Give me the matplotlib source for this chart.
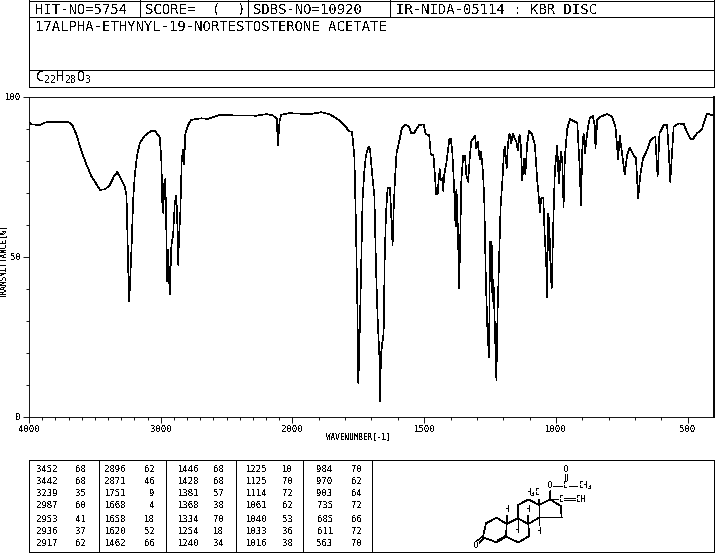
import numpy as np
import matplotlib
matplotlib.use("Agg")
import matplotlib.pyplot as plt

# ============================================================
# 1. Data
# ============================================================

WAVENUMBER = [
    3992, 3980, 3916, 3879, 3815, 3702, 3669, 3639, 3601, 3563, 3525, 3492,
    3462, 3424, 3386, 3356, 3331, 3310, 3273, 3260, 3252, 3245, 3239, 3220,
    3210, 3197, 3179, 3159, 3121, 3071, 3045, 3007, 2995, 2987, 2980, 2975,
    2965, 2957, 2950, 2944, 2932, 2919, 2906, 2894, 2884, 2876, 2868, 2861,
    2851, 2841, 2831, 2823, 2813, 2793, 2768, 2692, 2641, 2553, 2275, 2199,
    2149, 2119, 2111, 2098, 2086, 2023, 1936, 1891, 1860, 1822, 1797, 1787,
    1774, 1765, 1759, 1753, 1750, 1746, 1740, 1734, 1727, 1721, 1711, 1706,
    1700, 1689, 1683, 1677, 1670, 1668, 1664, 1660, 1654, 1650, 1645, 1639,
    1630, 1626, 1620, 1616, 1611, 1605, 1595, 1585, 1572, 1559, 1549, 1538,
    1519, 1502, 1494, 1481, 1475, 1465, 1458, 1455, 1448, 1446, 1441, 1437,
    1431, 1428, 1424, 1415, 1405, 1399, 1393, 1386, 1383, 1380, 1378, 1375,
    1370, 1368, 1364, 1359, 1352, 1345, 1340, 1333, 1327, 1321, 1307, 1302,
    1297, 1289, 1284, 1277, 1272, 1266, 1260, 1254, 1250, 1244, 1241, 1237,
    1231, 1226, 1222, 1216, 1210, 1203, 1197, 1193, 1187, 1182, 1176, 1170,
    1163, 1157, 1150, 1145, 1138, 1133, 1128, 1121, 1116, 1109, 1102, 1092,
    1080, 1071, 1064, 1061, 1056, 1048, 1042, 1037, 1034, 1029, 1025, 1020,
    1016, 1010, 1004, 995, 989, 981, 976, 971, 966, 957, 947, 919, 910, 905,
    900, 895, 890, 880, 872, 860, 852, 850, 843, 831, 806, 787, 774, 764,
    758, 749, 739, 730, 720, 705, 696, 688, 679, 669, 654, 641, 623, 614,
    607, 591, 578, 572, 566, 553, 534, 515, 503, 490, 481, 465, 446, 427,
    408,
]

TRANSMITTANCE = [
    91.9, 91.3, 91.1, 91.9, 92.1, 92.1, 90.9, 88.0, 82.8, 78.7, 75.0, 72.9,
    70.9, 71.0, 72.4, 75.0, 76.4, 75.0, 71.9, 69.3, 55.8, 43.3, 36.0, 54.7,
    67.2, 75.5, 81.8, 85.4, 87.8, 89.3, 89.3, 87.2, 79.7, 65.1, 63.6, 72.4,
    74.2, 56.8, 42.3, 52.1, 38.3, 53.7, 56.8, 66.2, 69.1, 64.1, 47.5, 56.3,
    64.1, 79.7, 83.3, 78.9, 88.5, 91.1, 92.7, 93.2, 93.0, 94.2, 94.0, 94.5,
    94.1, 93.0, 84.9, 92.2, 94.3, 94.8, 94.5, 95.1, 94.5, 92.6, 90.6, 89.2,
    89.0, 81.2, 59.4, 31.3, 10.5, 22.0, 43.8, 67.7, 77.0, 81.7, 84.3, 83.8,
    78.1, 68.7, 46.9, 31.3, 18.8, 4.8, 19.3, 22.5, 26.1, 49.0, 63.5, 71.3,
    71.6, 64.6, 53.7, 64.6, 73.9, 82.3, 85.9, 90.0, 91.1, 90.8, 88.5, 88.7,
    91.1, 91.3, 88.2, 88.0, 81.9, 81.7, 73.9, 69.5, 69.8, 73.4, 77.3, 73.9,
    74.5, 70.6, 75.5, 79.7, 86.4, 86.9, 82.3, 70.8, 62.5, 59.4, 70.8, 67.7,
    50.5, 40.1, 52.1, 73.9, 81.4, 81.4, 75.5, 73.4, 81.2, 86.2, 87.7, 83.8,
    85.9, 80.4, 82.8, 76.5, 67.7, 42.7, 27.1, 18.6, 54.7, 54.7, 36.0, 42.7,
    26.1, 11.5, 31.3, 49.0, 65.6, 73.9, 83.3, 84.3, 77.6, 85.4, 88.5, 85.4,
    88.5, 86.9, 85.9, 83.1, 88.2, 84.3, 73.9, 80.7, 75.8, 85.4, 89.3, 88.5,
    84.9, 73.9, 67.7, 64.0, 68.2, 68.5, 55.2, 49.0, 37.5, 63.5, 59.9, 44.8,
    40.3, 60.4, 77.0, 84.7, 72.9, 82.8, 80.2, 65.6, 81.2, 90.0, 92.9, 91.8,
    78.1, 66.1, 83.3, 88.5, 82.3, 89.5, 93.2, 93.9, 90.6, 83.8, 92.7, 93.7,
    94.5, 93.7, 90.6, 80.4, 87.7, 82.3, 75.8, 81.7, 84.1, 81.7, 80.7, 68.2,
    76.0, 80.7, 83.3, 86.4, 87.5, 75.0, 88.5, 91.1, 91.1, 83.3, 73.4, 90.6,
    91.6, 91.4, 89.0, 86.9, 86.6, 88.5, 89.7, 94.7, 94.2,
]

X_MAJOR = [4000, 3000, 2000, 1500, 1000, 500]
Y_MAJOR = [0, 50, 100]

PEAK_COLUMNS = [
    [("3452", "68"), ("3442", "68"), ("3239", "35"), ("2987", "60"),
     ("2953", "41"), ("2936", "37"), ("2917", "62")],
    [("2896", "62"), ("2871", "46"), ("1751", "9"), ("1668", "4"),
     ("1658", "18"), ("1620", "52"), ("1462", "66")],
    [("1446", "68"), ("1428", "68"), ("1381", "57"), ("1368", "38"),
     ("1334", "70"), ("1254", "18"), ("1240", "34")],
    [("1225", "10"), ("1125", "70"), ("1114", "72"), ("1061", "62"),
     ("1040", "53"), ("1033", "36"), ("1016", "38")],
    [("984", "70"), ("970", "62"), ("903", "64"), ("735", "72"),
     ("685", "66"), ("611", "72"), ("563", "70")],
]

# ============================================================
# 2. Page setup (everything but the spectrum is in pixels)
# ============================================================

W, H = 715, 553
LW = 0.65
THIN = 0.45
MONO = "DejaVu Sans Mono"

plt.rcParams["text.antialiased"] = False
plt.rcParams["font.family"] = MONO
plt.rcParams["mathtext.fontset"] = "dejavusans"

fig = plt.figure(figsize=(W / 100, H / 100), dpi=100)

page = fig.add_axes([0, 0, 1, 1])
page.set_xlim(0, W)
page.set_ylim(H, 0)
page.axis("off")


def hline(y, x0=29, x1=714):
    page.plot([x0, x1], [y, y], color="black", lw=LW, antialiased=False)


def vline(x, y0, y1):
    page.plot([x, x], [y0, y1], color="black", lw=LW, antialiased=False)


# ============================================================
# 3. Header boxes
# ============================================================

for y in [0.5, 17, 69.5, 87]:
    hline(y)
vline(29, 0, 87)
vline(714, 0, 87)
for x in [140, 248, 390]:
    vline(x, 0, 17)

for x, label in [(35, "HIT-NO=5754"), (145, "SCORE=  (  )"),
                 (253, "SDBS-NO=10920"), (396, "IR-NIDA-05114 : KBR DISC")]:
    page.text(x, 9.5, label, fontsize=10, va="center", ha="left")
page.text(35, 27, "17ALPHA-ETHYNYL-19-NORTESTOSTERONE ACETATE",
          fontsize=10, va="center", ha="left")
page.text(35, 78, r"$\mathtt{C_{22}H_{28}O_{3}}$", fontsize=10,
          va="center", ha="left")

# ============================================================
# 4. Spectrum
# ============================================================


def forward(w):
    w = np.asarray(w, dtype=float)
    return np.where(w <= 2000, w, 2000 + (w - 2000) / 2)


def inverse(u):
    u = np.asarray(u, dtype=float)
    return np.where(u <= 2000, u, 2000 + (u - 2000) * 2)


ax = fig.add_axes([29 / W, (H - 417) / H, 685 / W, 320.5 / H])
ax.patch.set_alpha(0)
ax.plot(WAVENUMBER, TRANSMITTANCE, color="black", lw=THIN, antialiased=False)
ax.set_xscale("function", functions=(forward, inverse))
ax.set_xlim(4000, 400)
ax.set_ylim(0, 100)
ax.set_xticks(X_MAJOR)
ax.set_xticks(np.arange(500, 4000, 100), minor=True)
ax.set_yticks(Y_MAJOR)
ax.set_yticks(np.arange(0, 101, 10), minor=True)
ax.tick_params(axis="both", which="major", length=4, width=LW, labelsize=6.5, pad=2)
ax.tick_params(axis="both", which="minor", length=2, width=LW)
ax.xaxis.set_major_formatter(matplotlib.ticker.FormatStrFormatter("%d"))
ax.xaxis.set_minor_formatter(matplotlib.ticker.NullFormatter())
for spine in ax.spines.values():
    spine.set_linewidth(LW)
ax.spines["right"].set_linewidth(1.4)

page.text(358, 437, "WAVENUMBER[-1]", fontsize=5.5, ha="center", va="center")
page.text(4, 261, "TRANSMITTANCE[%]", fontsize=5.5, rotation=90, ha="center",
          va="center")

# ============================================================
# 5. Peak table
# ============================================================

hline(460)
hline(552)
for x in [29, 98.5, 166, 235.5, 303, 372, 714]:
    vline(x, 460, 552)

COL_RIGHT = [(58, 86), (126, 155), (199, 224), (267, 293), (333, 362)]
ROW_Y = [470, 482, 494, 506, 519, 531, 544]

for col, (x_wave, x_trans) in zip(PEAK_COLUMNS, COL_RIGHT):
    for (wave, trans), y in zip(col, ROW_Y):
        page.text(x_wave, y, wave, fontsize=6.5, ha="right", va="center")
        page.text(x_trans, y, trans, fontsize=6.5, ha="right", va="center")

# ============================================================
# 6. Structure drawing (traced in 3x crop coordinates)
# ============================================================

BONDS = [
    (40, 240, 48, 205), (48, 205, 80, 188), (80, 188, 110, 207),
    (110, 207, 108, 245), (108, 245, 80, 262), (80, 262, 48, 250),
    (110, 207, 143, 190), (143, 190, 175, 207), (175, 207, 178, 243),
    (178, 243, 145, 262), (145, 262, 108, 245), (143, 190, 145, 150),
    (145, 150, 175, 133), (175, 133, 207, 150), (207, 150, 207, 188),
    (207, 188, 175, 207), (207, 150, 240, 133), (240, 133, 272, 153),
    (272, 153, 275, 187), (275, 187, 207, 188), (240, 133, 240, 102),
    (250, 92, 280, 92), (298, 92, 325, 92), (240, 133, 268, 133),
    (143, 190, 143, 215), (207, 188, 207, 218), (84, 256, 106, 243),
    (25, 266, 42, 248), (20, 260, 38, 243), (285, 82, 285, 52),
    (291, 82, 291, 52), (283, 128, 315, 128), (283, 136, 315, 136),
]
WEDGES = [(207, 150, 207, 120), (110, 207, 110, 176), (175, 207, 175, 176),
          (240, 133, 240, 112)]
ATOMS = [
    (18, 272, "O"), (240, 92, "O"), (288, 92, "C"), (288, 42, "O"),
    (345, 93, "CH$_3$"), (275, 132, "C"), (333, 132, "CH"), (190, 113, "H$_3$C"),
    (113, 165, "H"), (177, 165, "H"), (143, 226, "H"), (210, 228, "H"),
]


def px(zx, zy):
    return 470 + zx / 3, 455 + zy / 3


for x0, y0, x1, y1 in BONDS:
    a, b = px(x0, y0), px(x1, y1)
    page.plot([a[0], b[0]], [a[1], b[1]], color="black", lw=THIN, antialiased=False)
for x0, y0, x1, y1 in WEDGES:
    a, b = px(x0, y0), px(x1, y1)
    page.plot([a[0], b[0]], [a[1], b[1]], color="black", lw=1.3, antialiased=False)
for zx, zy, label in ATOMS:
    x, y = px(zx, zy)
    page.text(x, y, label, fontsize=5.5, ha="center", va="center",
              bbox=dict(fc="white", ec="none", pad=0.2))

fig.savefig("out.png", dpi=100)
